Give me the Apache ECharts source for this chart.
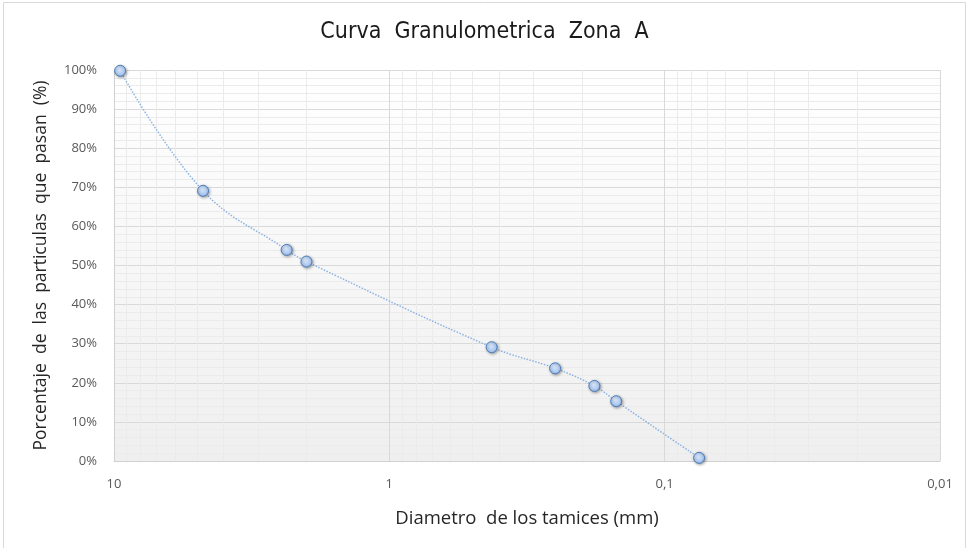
<!DOCTYPE html>
<html>
<head>
<meta charset="utf-8">
<script src="https://cdn.jsdelivr.net/npm/echarts@6/dist/echarts.min.js"></script>
<style>
  html, body { margin: 0; padding: 0; background: #ffffff; }
  #chart { width: 969px; height: 548px; }
</style>
</head>
<body>
<div id="chart"></div>
<script>
// Sieve openings (mm) and cumulative percent passing
const diametros = [9.5, 4.75, 2.36, 2.0, 0.425, 0.25, 0.18, 0.15, 0.075];
const pasaPct = [99.8, 69.1, 54.0, 51.0, 29.1, 23.7, 19.2, 15.3, 0.8];

// Axis tick labels
const xTickLabels = { '1': '10', '0': '1', '-1': '0,1', '-2': '0,01' };
const yTickLabels = ['0%', '10%', '20%', '30%', '40%', '50%', '60%', '70%', '80%', '90%', '100%'];

// Intermediate log grid positions (2..9 within each decade)
const minorDiam = [];
[0.01, 0.1, 1].forEach(function (d) {
  for (let k = 2; k <= 9; k++) minorDiam.push(+(d * k).toPrecision(3));
});

const labelFont = '"Open Sans", "Liberation Sans", Arial, sans-serif';
const textGray = '#595959';

const chart = echarts.init(document.getElementById('chart'));
chart.setOption({
  animation: false,
  title: {
    text: 'Curva  Granulometrica  Zona  A',
    left: 'center',
    top: 16,
    textStyle: {
      fontFamily: '"Liberation Sans Narrow", "DejaVu Sans Condensed", Arial, sans-serif',
      fontSize: 23,
      fontWeight: 'normal',
      color: '#1a1a1a'
    }
  },
  graphic: [{
    type: 'rect',
    shape: { x: 3.5, y: 2.5, width: 962, height: 560 },
    style: { fill: 'none', stroke: '#d9d9d9', lineWidth: 1 },
    silent: true,
    z: -1
  }],
  grid: {
    left: 114, right: 29, top: 70, bottom: 87,
    show: true,
    borderWidth: 0,
    backgroundColor: new echarts.graphic.LinearGradient(0, 0, 0, 1, [
      { offset: 0, color: '#ffffff' },
      { offset: 1, color: '#efefef' }
    ])
  },
  xAxis: {
    type: 'log',
    logBase: 10,
    min: 0.01,
    max: 10,
    inverse: true,
    name: 'Diametro  de los tamices (mm)',
    nameLocation: 'middle',
    nameGap: 48,
    nameTextStyle: { fontFamily: labelFont, fontSize: 18.5, color: '#262626' },
    axisLine: { show: true, lineStyle: { color: '#d0d0d0', width: 1 } },
    axisTick: { show: false },
    axisLabel: {
      margin: 17,
      fontFamily: labelFont,
      fontSize: 13,
      color: textGray,
      formatter: function (v) {
        return xTickLabels[String(Math.round(Math.log10(v)))] || '';
      }
    },
    splitLine: { show: true, lineStyle: { color: '#d9d9d9', width: 1 } }
  },
  yAxis: {
    type: 'value',
    min: 0,
    max: 100,
    interval: 10,
    name: 'Porcentaje  de  las  particulas  que  pasan  (%)',
    nameLocation: 'middle',
    nameGap: 64,
    nameTextStyle: { fontFamily: labelFont, fontSize: 17.5, color: '#262626' },
    axisLine: { show: true, lineStyle: { color: '#d0d0d0', width: 1 } },
    axisTick: { show: false },
    axisLabel: {
      margin: 17,
      fontFamily: labelFont,
      fontSize: 13,
      color: textGray,
      formatter: function (v) { return yTickLabels[Math.round(v / 10)]; }
    },
    splitLine: { show: true, lineStyle: { color: '#d9d9d9', width: 1 } },
    minorTick: { show: false, splitNumber: 5 },
    minorSplitLine: { show: true, lineStyle: { color: '#ebebeb', width: 1 } }
  },
  series: [
    {
      type: 'line',
      data: diametros.map(function (d, i) { return [d, pasaPct[i]]; }),
      smooth: 0.4,
      symbol: 'circle',
      symbolSize: 11,
      lineStyle: { color: '#8db3e2', width: 1.5, type: 'dotted' },
      itemStyle: {
        color: new echarts.graphic.RadialGradient(0.4, 0.35, 0.7, [
          { offset: 0, color: '#dbe8fb' },
          { offset: 1, color: '#9bbdee' }
        ]),
        borderColor: '#4a7ebb',
        borderWidth: 1,
        shadowBlur: 3,
        shadowOffsetX: 1,
        shadowOffsetY: 1,
        shadowColor: 'rgba(0,0,0,0.35)'
      },
      z: 5,
      markLine: {
        silent: true,
        symbol: 'none',
        label: { show: false },
        lineStyle: { color: '#ebebeb', width: 1, type: 'solid' },
        data: minorDiam.map(function (d) { return { xAxis: d }; }),
        z: 1
      }
    }
  ]
});
</script>
</body>
</html>
